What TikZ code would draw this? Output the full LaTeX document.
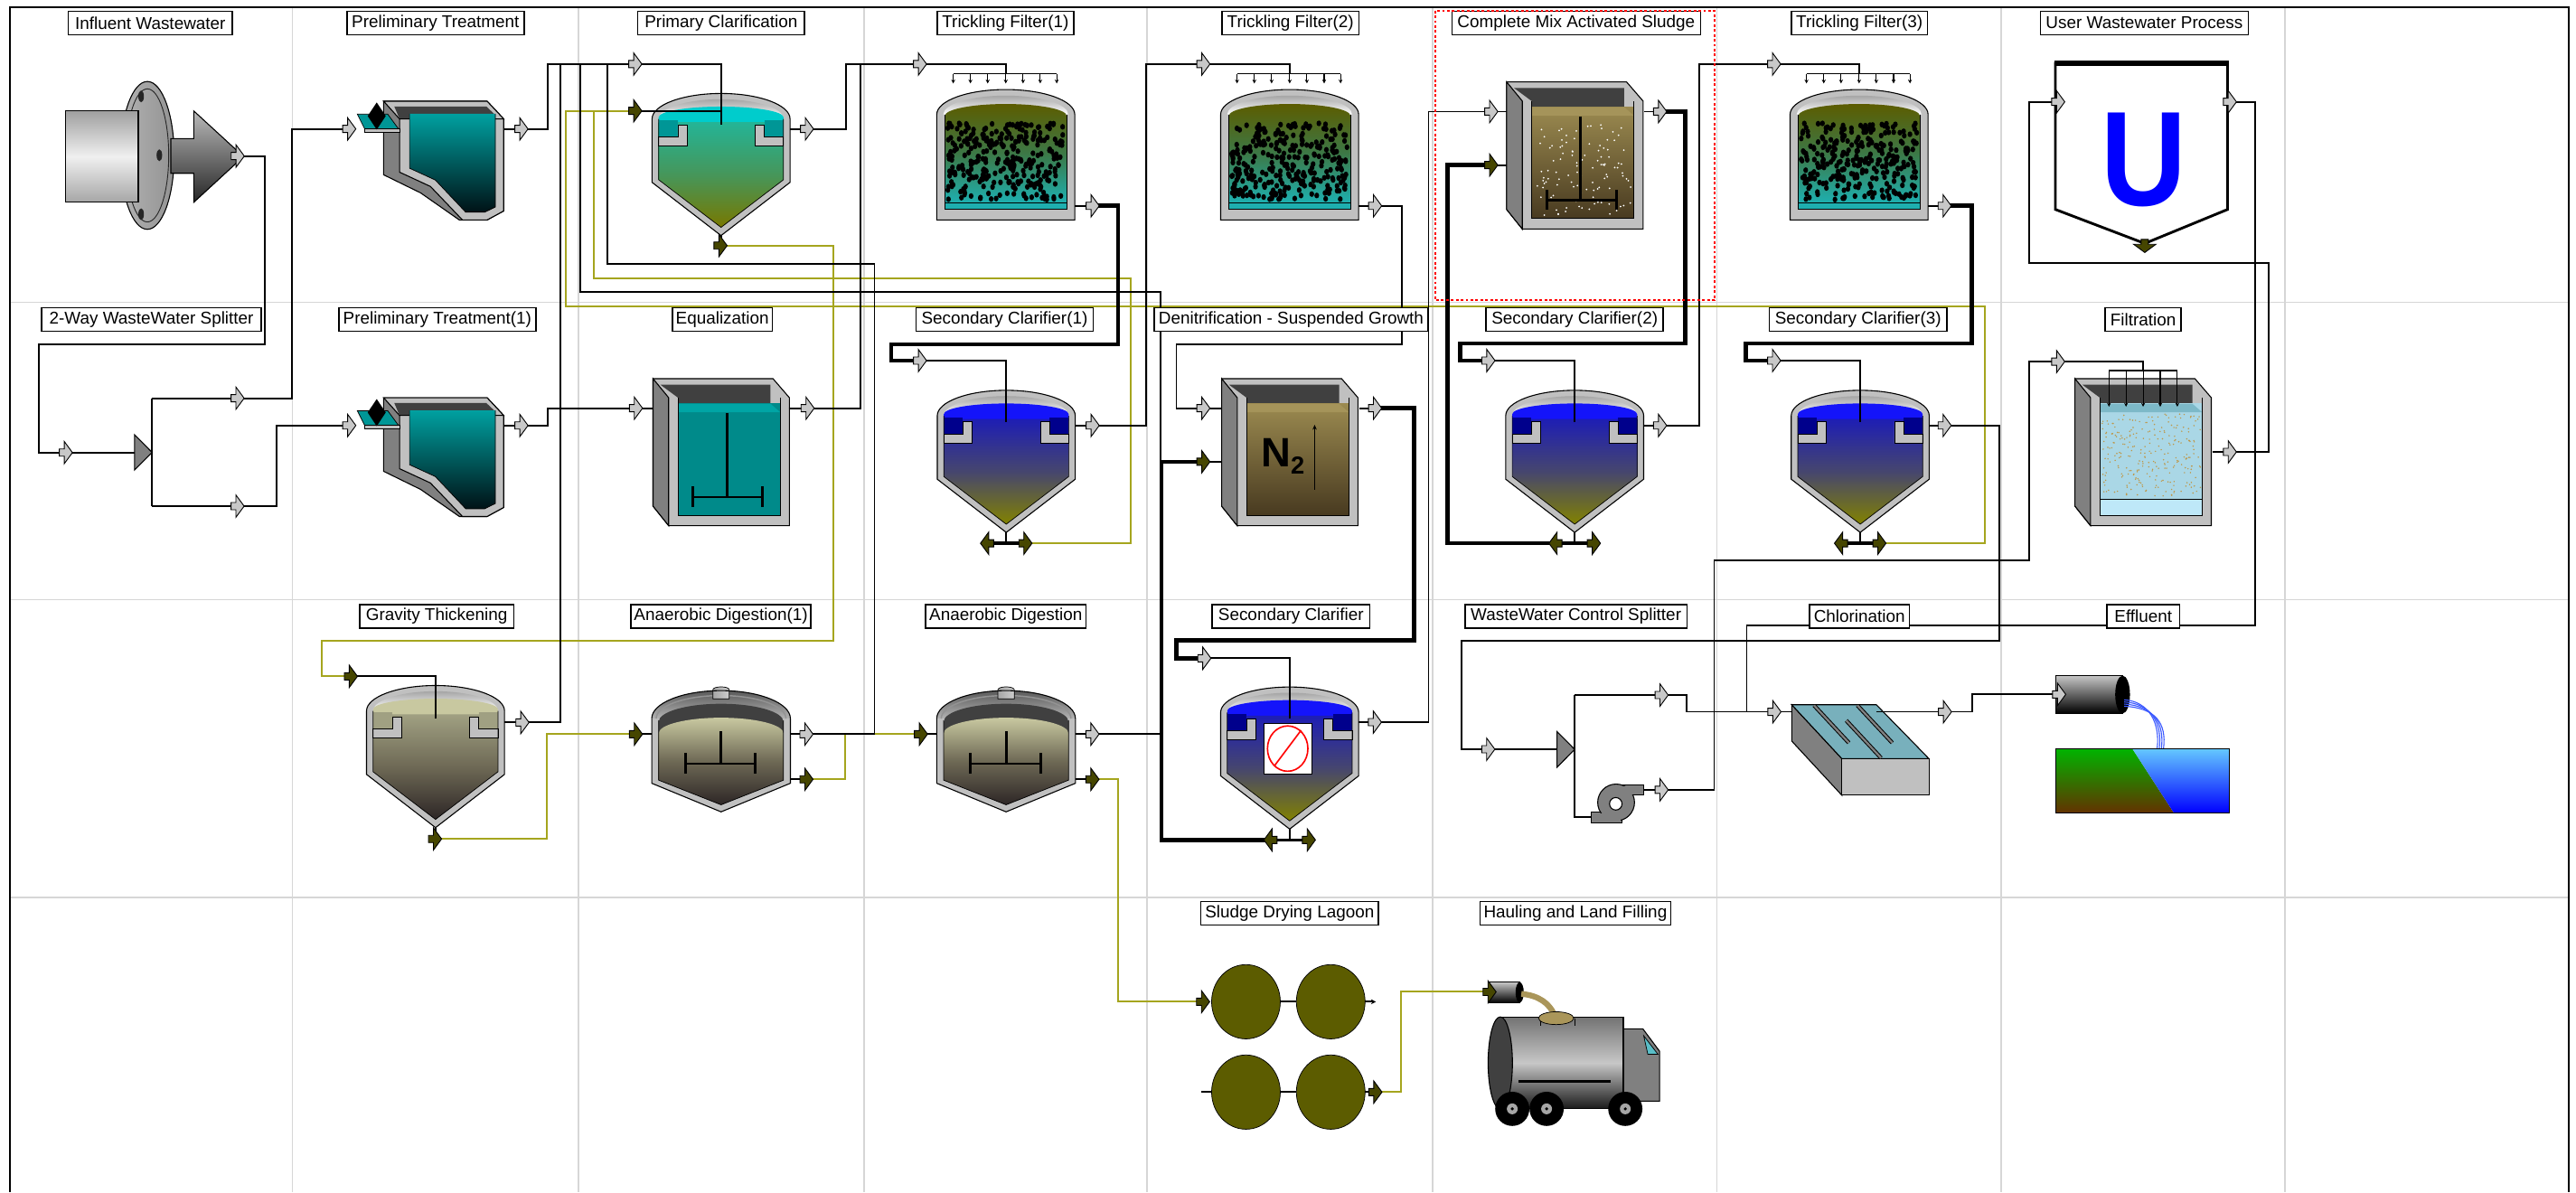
\documentclass[tikz,border=0pt]{standalone}
\usepackage{fontspec}
\setmainfont{Liberation Sans}
\usetikzlibrary{arrows.meta}

\definecolor{olivel}{RGB}{165,165,30}
\definecolor{portd}{RGB}{70,70,0}
\definecolor{portl}{RGB}{200,200,200}
\definecolor{wallg}{RGB}{192,192,192}
\definecolor{sideg}{RGB}{128,128,128}
\definecolor{darkg}{RGB}{64,64,64}
\definecolor{gridg}{RGB}{214,214,214}
\definecolor{tealA}{RGB}{0,160,160}
\definecolor{tealB}{RGB}{0,18,22}
\definecolor{cyanS}{RGB}{0,204,204}
\definecolor{tealT}{RGB}{0,150,150}
\definecolor{primT}{RGB}{36,180,150}
\definecolor{primM}{RGB}{70,150,90}
\definecolor{primB}{RGB}{120,120,0}
\definecolor{blueS}{RGB}{20,20,250}
\definecolor{navyT}{RGB}{0,0,140}
\definecolor{secT}{RGB}{30,30,180}
\definecolor{secM}{RGB}{70,70,110}
\definecolor{secB}{RGB}{130,130,0}
\definecolor{khakiS}{RGB}{200,200,160}
\definecolor{gtT}{RGB}{160,160,130}
\definecolor{gtM}{RGB}{110,105,85}
\definecolor{gtB}{RGB}{45,38,38}
\definecolor{sludA}{RGB}{92,92,0}
\definecolor{tfM}{RGB}{60,120,70}
\definecolor{tfB}{RGB}{30,175,175}
\definecolor{brownT}{RGB}{155,138,80}
\definecolor{brownB}{RGB}{72,58,32}
\definecolor{brownS}{RGB}{165,148,90}
\definecolor{eqT}{RGB}{0,138,138}
\definecolor{eqS}{RGB}{0,165,165}
\definecolor{filtA}{RGB}{170,215,230}
\definecolor{filtB}{RGB}{190,232,248}
\definecolor{filtS}{RGB}{125,185,200}
\definecolor{sandc}{RGB}{190,150,70}
\definecolor{chlT}{RGB}{120,176,188}
\definecolor{cabwin}{RGB}{90,190,200}
\definecolor{hose}{RGB}{170,150,90}
\definecolor{grassA}{RGB}{0,180,0}
\definecolor{grassB}{RGB}{100,50,0}
\definecolor{waterA}{RGB}{100,200,255}
\definecolor{waterB}{RGB}{0,0,255}
\definecolor{streamc}{RGB}{60,90,255}

\tikzset{
  pipe/.style={line width=1pt, draw=black},
  sludge/.style={line width=1.1pt, draw=olivel},
  recyc/.style={line width=2.6pt, draw=black},
  outl/.style={draw=black, line width=0.6pt},
  thinl/.style={draw=black, line width=0.4pt},
  lbl/.style={draw=black, fill=white, line width=0.8pt, inner sep=0pt,
    minimum height=14.5pt, font=\fontsize{10.4}{12}\selectfont},
  tick/.style={line width=0.6pt, -{Stealth[length=2.4pt,width=2.4pt]}},
  pics/portr/.style={code={
    \filldraw[fill=#1, draw=black, line width=0.5pt]
      (-4.3,-2.2) -- (-1.3,-2.2) -- (-1.3,-6.8) -- (3.7,0) -- (-1.3,6.8)
      -- (-1.3,2.2) -- (-4.3,2.2) -- cycle;}},
}

% settling tank: centre x, wall top y, surface, trough, top/middle/bottom fill
\newcommand{\clarifier}[7]{%
  \begin{scope}[shift={(#1,#2)}]
    \fill[wallg] (-42,0) -- (-42,38.6) -- (0,71) -- (42,38.6) -- (42,0)
      arc[start angle=0,end angle=-180,x radius=42,y radius=15.5] -- cycle;
    \shade[top color=gray!70, bottom color=white] (38,0)
      arc[start angle=0,end angle=-180,x radius=38,y radius=12] -- cycle;
    \fill[#3] (-38,3) -- (-38,-1)
      arc[start angle=180,end angle=360,x radius=38,y radius=6.5] -- (38,3) -- cycle;
    \shade[top color=#5, bottom color=#7, middle color=#6]
      (-38,2) -- (-38,37) -- (0,66) -- (38,37) -- (38,2) -- cycle;
    \fill[#4] (-38,1) rectangle (-26.3,11);
    \fill[#4] (26.3,1) rectangle (38,11);
    \filldraw[fill=wallg, thinl] (-38,11) -- (-26.3,11) -- (-26.3,3.7) -- (-20.8,3.7)
      -- (-20.8,16.6) -- (-38,16.6) -- cycle;
    \filldraw[fill=wallg, thinl] (38,11) -- (26.3,11) -- (26.3,3.7) -- (20.8,3.7)
      -- (20.8,16.6) -- (38,16.6) -- cycle;
    \draw[thinl] (-38,0) -- (-38,37) -- (0,66) -- (38,37) -- (38,0);
    \draw[outl] (-42,0) -- (-42,38.6) -- (0,71) -- (42,38.6) -- (42,0)
      arc[start angle=0,end angle=-180,x radius=42,y radius=15.5] -- cycle;
  \end{scope}}

% digester: centre x, wall top y
\newcommand{\digester}[2]{%
  \begin{scope}[shift={(#1,#2)}]
    \fill[wallg] (-42.2,0) -- (-42.2,39.4) -- (0,56.8) -- (42.2,39.4) -- (42.2,0) -- cycle;
    \shade[top color=black!65, bottom color=black!30] (42.2,0)
      arc[start angle=0,end angle=-180,x radius=42.2,y radius=17] -- cycle;
    \draw[gray!85, line width=0.8pt] (39.5,0)
      arc[start angle=0,end angle=-180,x radius=39.5,y radius=14];
    \fill[darkg] (38,9) -- (38,2)
      arc[start angle=0,end angle=-180,x radius=38,y radius=11] -- (-38,9) -- cycle;
    \shadedraw[left color=gray!70, right color=gray!40, thinl] (-5,-12) -- (-5,-17.5)
      arc[start angle=180,end angle=360,x radius=5,y radius=1.8] -- (5,-12) -- cycle;
    \shade[top color=khakiS, bottom color=gtB, middle color=gtM] (-38,9)
      arc[start angle=180,end angle=360,x radius=38,y radius=9.5]
      -- (38,37.5) -- (0,52.5) -- (-38,37.5) -- cycle;
    \draw[thinl] (-38,1) -- (-38,37.5) -- (0,52.5) -- (38,37.5) -- (38,1);
    \draw[line width=1.6pt] (0,7.9) -- (0,27.5) (-21.8,27.5) -- (20.9,27.5)
      (-21.8,21) -- (-21.8,33.5) (20.9,21) -- (20.9,33.5);
    \draw[outl] (-42.2,0) -- (-42.2,39.4) -- (0,56.8) -- (42.2,39.4) -- (42.2,0)
      arc[start angle=0,end angle=-180,x radius=42.2,y radius=17] -- cycle;
  \end{scope}}

% trickling filter: centre x, random seed for the media
\newcommand{\tfilter}[2]{%
  \begin{scope}[shift={(#1,0)}]
    \filldraw[fill=wallg, outl] (-42,133.9) -- (-42,69.7)
      arc[start angle=180,end angle=360,x radius=42,y radius=15.2] -- (42,133.9) -- cycle;
    \shade[top color=gray!70, bottom color=white] (-38,69.7)
      arc[start angle=180,end angle=360,x radius=38,y radius=11.5] -- cycle;
    \shade[top color=sludA, bottom color=tfB, middle color=tfM] (-37,123.2) -- (-37,70.5)
      arc[start angle=180,end angle=360,x radius=37,y radius=7.2] -- (37,123.2) -- cycle;
    \pgfmathsetseed{#2}
    \foreach \k in {1,...,300}{%
      \pgfmathsetmacro{\dotx}{-35.3+70.6*rnd}%
      \pgfmathsetmacro{\doty}{75+46.5*rnd}%
      \fill (\dotx,\doty) ellipse[x radius=1.45,y radius=1.75];}
    \filldraw[fill=tfB, thinl] (-37,123.2) rectangle (37,127.5);
    \draw[thinl] (-37,127.5) -- (-37,69.7) (37,69.7) -- (37,127.5);
    \draw[line width=0.8pt] (-32,44.9) -- (31,44.9);
    \foreach \q in {-32,-21.5,-11,0,10.5,21,31} \draw[tick] (\q,44.9) -- (\q,50.8);
  \end{scope}}

% open basin: left x, top y, liquid top/bottom colour, surface colour
\newcommand{\tankbox}[5]{%
  \begin{scope}[shift={(#1,#2)}]
    \filldraw[fill=wallg, outl] (0,0) -- (73,0) -- (83,11.6) -- (83,89.5) -- (9.5,89.5)
      -- (0,77.6) -- cycle;
    \filldraw[fill=sideg, outl] (0,0) -- (9.5,11.6) -- (9.5,89.5) -- (0,77.6) -- cycle;
    \fill[darkg] (4.5,3.7) -- (71.5,3.7) -- (71.5,15.3) -- (15.2,15.3) -- (15.2,11.6) -- cycle;
    \shade[top color=#3, bottom color=#4] (15.2,15.3) rectangle (77.5,83.1);
    \fill[#5] (15.2,15.3) -- (71.5,15.3) -- (77.5,20.5) -- (15.2,20.5) -- cycle;
    \draw[thinl] (15.2,11.6) -- (15.2,83.1) -- (77.5,83.1) -- (77.5,11.6);
  \end{scope}}

\newcommand{\mixer}[2]{%
  \begin{scope}[shift={(#1,#2)}]
    \draw[line width=1.6pt] (45,20.8) -- (45,72.1) (24.4,72.1) -- (66.7,72.1)
      (24.4,65.7) -- (24.4,78) (66.7,65.7) -- (66.7,78);
  \end{scope}}

% bar screen and channel, shifted down by #1
\newcommand{\prelim}[1]{%
  \begin{scope}[shift={(0,#1)}]
    \filldraw[fill=sideg, outl] (233.5,61.6) -- (296.5,61.6) -- (306.6,72.4) -- (306.6,128.4)
      -- (296.5,133.9) -- (279.6,133.9) -- (256,117.4) -- (233.5,106.4) -- cycle;
    \filldraw[fill=wallg, outl] (233.5,61.6) -- (296.5,61.6) -- (306.6,72.4) -- (243.2,72.4) -- cycle;
    \fill[darkg] (240,64.8) -- (296,64.8) -- (301.5,70) -- (301.5,72.4) -- (243.2,72.4) -- cycle;
    \filldraw[fill=wallg, outl] (243.2,72.4) -- (306.6,72.4) -- (306.6,128.4) -- (296.5,133.9)
      -- (281.5,133.9) -- (262,113.5) -- (243.2,104.8) -- cycle;
    \shade[top color=tealA, bottom color=tealB] (249.3,69.3) -- (301.5,69.3) -- (301.5,126)
      -- (295,129.2) -- (283.5,129.2) -- (265,109.6) -- (249.3,102.4) -- cycle;
    \draw[thinl] (249.3,69.3) -- (249.3,102.4) -- (265,109.6) -- (283.5,129.2) -- (295,129.2)
      -- (301.5,126) -- (301.5,69.3);
    \filldraw[fill=tealT, thinl] (217.5,69.5) -- (236,69.5) -- (242.6,78.5) -- (222,78.5) -- cycle;
    \filldraw[fill=wallg, thinl] (222,78.5) rectangle (243.2,80.7);
    \fill (229.3,62.4) -- (234.8,70.6) -- (229.3,78.9) -- (223.8,70.6) -- cycle;
  \end{scope}}

\begin{document}
\begin{tikzpicture}[x=1pt,y=-1pt]
\useasboundingbox (0,0) rectangle (1568,725.7);
\fill[white] (0,0) rectangle (1568,725.7);

% ---------------- layout grid and frame
\foreach \gx in {178,352,526,698,872,1045,1218,1391}
  \draw[gridg, line width=1pt] (\gx,5) -- (\gx,725.7);
\foreach \gy in {184,365,546.5}
  \draw[gridg, line width=1pt] (6,\gy) -- (1563.5,\gy);
\draw[line width=1.3pt] (6,725.7) -- (6,4.5) -- (1563.5,4.5) -- (1563.5,725.7);

% ---------------- stream ports
\coordinate (infl-out) at (145,95);
\coordinate (spl-in) at (40.4,275.5);
\coordinate (spl-o1) at (144.9,242.4);
\coordinate (spl-o2) at (144.9,308.1);
\coordinate (pt0-in) at (212.9,78.5);
\coordinate (pt0-out) at (317.7,78.5);
\coordinate (pt1-in) at (212.9,259);
\coordinate (pt1-out) at (317.7,259);
\coordinate (pc-in) at (387,39);
\coordinate (pc-in2) at (387,67.5);
\coordinate (pc-out) at (491.5,78.5);
\coordinate (pc-sl) at (438.9,149.5);
\coordinate (eq-in) at (387.4,248.5);
\coordinate (eq-out) at (491.9,248.5);
\coordinate (tf1-in) at (560.3,39);
\coordinate (tf1-out) at (665.4,125.3);
\coordinate (tf2-in) at (732.8,39);
\coordinate (tf2-out) at (837.3,125.3);
\coordinate (tf3-in) at (1080.2,39);
\coordinate (tf3-out) at (1184,125.3);
\coordinate (cm-in) at (908,67.9);
\coordinate (cm-in2) at (908,100.5);
\coordinate (cm-out) at (1010.8,67.9);
\coordinate (us-in) at (1253.1,62);
\coordinate (us-out) at (1357.6,62);
\coordinate (us-sl) at (1305.5,150);
\coordinate (sc1-in) at (560.3,219.5);
\coordinate (sc1-out) at (665.4,259);
\coordinate (sc1-sa) at (600.5,330.7);
\coordinate (sc1-sb) at (624.5,330.7);
\coordinate (dn-in) at (732.8,248.5);
\coordinate (dn-in2) at (732.8,281.1);
\coordinate (dn-out) at (837.3,248.5);
\coordinate (sc2-in) at (906.3,219.5);
\coordinate (sc2-out) at (1010.8,259);
\coordinate (sc2-sa) at (946.5,330.7);
\coordinate (sc2-sb) at (970.5,330.7);
\coordinate (sc3-in) at (1080.2,219.5);
\coordinate (sc3-out) at (1184,259);
\coordinate (sc3-sa) at (1120.3,330.7);
\coordinate (sc3-sb) at (1144.3,330.7);
\coordinate (fi-in) at (1253.1,220.1);
\coordinate (fi-out) at (1357.6,275.1);
\coordinate (gt-in) at (213.9,411.7);
\coordinate (gt-out) at (318.3,439.8);
\coordinate (gt-sl) at (265.1,510.7);
\coordinate (ad1-in) at (387.4,446.9);
\coordinate (ad1-out) at (491.2,446.9);
\coordinate (ad1-sl) at (491.2,474.4);
\coordinate (ad-in) at (560.9,446.9);
\coordinate (ad-out) at (665.3,446.9);
\coordinate (ad-sl) at (665.3,474.4);
\coordinate (sc-in) at (733.4,400.7);
\coordinate (sc-out) at (837.2,439.6);
\coordinate (sc-sa) at (773,511.3);
\coordinate (sc-sb) at (797,511.3);
\coordinate (ws-in) at (906.2,456.1);
\coordinate (ws-o1) at (1011.7,423.1);
\coordinate (ws-o2) at (1011.7,480.8);
\coordinate (ch-in) at (1080.4,433.3);
\coordinate (ch-out) at (1184.2,433.3);
\coordinate (ef-in) at (1253.7,422.7);
\coordinate (lg-in) at (732.6,609.8);
\coordinate (lg-out) at (837.5,664.8);
\coordinate (tk-in) at (907,603.8);

% ---------------- influent pipe
\shadedraw[left color=gray!60, right color=gray!85, outl] (89.7,94.6) ellipse[x radius=16.3,y radius=45];
\draw[gray!30!black, line width=0.5pt] (89.7,94.6) ellipse[x radius=13,y radius=40.5];
\foreach \by/\bx in {58.7/85.9, 94.5/97, 130.4/85.9}
  \fill[black!85] (\bx,\by) ellipse[x radius=1.7,y radius=3.6];
\shadedraw[top color=gray!75, bottom color=gray!70, middle color=gray!12, outl]
  (39.8,67.5) rectangle (84.2,123.2);
\shadedraw[top color=gray!55, bottom color=black!85, outl] (104,84.4) -- (117.9,84.4)
  -- (117.9,67.5) -- (148.2,95.3) -- (117.9,123.2) -- (117.9,105.5) -- (104,105.5) -- cycle;

% ---------------- splitters
\filldraw[fill=sideg, outl] (81.9,264.6) -- (92.6,275.4) -- (81.9,286.1) -- cycle;
\filldraw[fill=sideg, outl] (947.7,445.3) -- (958.5,456.2) -- (947.7,467.1) -- cycle;

% ---------------- headworks
\prelim{0}
\prelim{180.5}

% ---------------- settling tanks
\clarifier{438.9}{72.4}{cyanS}{tealT}{primT}{primM}{primB}
\clarifier{612.5}{253.1}{blueS}{navyT}{secT}{secM}{secB}
\clarifier{958.5}{253.1}{blueS}{navyT}{secT}{secM}{secB}
\clarifier{1132.3}{253.1}{blueS}{navyT}{secT}{secM}{secB}
\clarifier{785}{433.7}{blueS}{navyT}{secT}{secM}{secB}
\clarifier{265.1}{432.8}{khakiS}{gtT}{gtT}{gtM}{gtB}
% disabled marker on the last clarifier
\filldraw[fill=white, thinl] (769.1,440.1) rectangle (798.4,471.3);
\draw[red, line width=0.9pt] (783.8,455.7) ellipse[x radius=12.3,y radius=13.8];
\draw[red, line width=0.9pt] (775.5,466.5) -- (792,444.5);

% ---------------- trickling filters
\tfilter{612.2}{11}
\tfilter{785}{23}
\tfilter{1131.6}{37}

% ---------------- basins
\tankbox{397.5}{230.5}{eqT}{eqT}{eqS}
\mixer{397.5}{230.5}
\tankbox{917.1}{49.9}{brownT}{brownB}{brownS}
\pgfmathsetseed{5}
\foreach \k in {1,...,110}{%
  \pgfmathsetmacro{\dotx}{935+58*rnd}\pgfmathsetmacro{\doty}{76+55*rnd}%
  \fill[white] (\dotx,\doty) circle (0.55);}
\mixer{917.1}{49.9}
\tankbox{743.6}{230.5}{brownT}{brownB}{brownS}
\node[font=\fontsize{25}{25}\selectfont\bfseries, anchor=base west, inner sep=0pt]
  (n2) at (767.5,284.3) {N\raisebox{-4.5pt}{\fontsize{15}{15}\selectfont 2}};
\draw[line width=0.8pt, -{Stealth[length=3pt,width=2.6pt]}] (800.2,298) -- (800.2,258.6);
\tankbox{1263}{230.5}{filtA}{filtA}{filtS}
\pgfmathsetseed{9}
\foreach \k in {1,...,260}{%
  \pgfmathsetmacro{\dotx}{1279.5+60*rnd}\pgfmathsetmacro{\doty}{252+50*rnd}%
  \fill[sandc] (\dotx,\doty) circle (0.45);}
\filldraw[fill=filtB, thinl] (1278.2,303.9) rectangle (1340.5,313.6);
\draw[line width=0.8pt] (1283.7,225.6) -- (1325.3,225.6);
\foreach \q in {1283.7,1294.1,1304.5,1314.9,1325.3} \draw[tick] (\q,225.6) -- (\q,247.6);

% ---------------- digesters
\digester{438.9}{437.4}
\digester{612.4}{437.4}

% ---------------- user process
\filldraw[fill=white, line width=1.6pt] (1251.1,38.5) -- (1355.9,38.5) -- (1355.9,127.5)
  -- (1305.5,148.2) -- (1251.1,127.5) -- cycle;
\draw[line width=3pt] (1250.3,38.5) -- (1356.7,38.5);
\node[text=blue, font=\fontsize{82}{82}\selectfont\bfseries, xscale=0.88, anchor=base,
  inner sep=0pt] (u-sym) at (1304.9,125.3) {U};

% ---------------- splitter pump
\filldraw[fill=sideg, outl] (968.6,494.2) rectangle (987.1,500.7);
\filldraw[fill=sideg, outl] (984,477.7) rectangle (1000.6,484.1);
\filldraw[fill=sideg, outl] (983.7,488.5) circle (11.2);
\fill[sideg] (984.5,478.4) rectangle (999.9,483.4);
\fill[sideg] (969.3,494.9) rectangle (986.4,500);
\filldraw[fill=white, outl] (983.5,489.3) circle (3.8);

% ---------------- chlorination basin
\filldraw[fill=sideg, outl] (1090.6,429) -- (1121.1,461.8) -- (1121.1,484.1) -- (1090.6,451.1) -- cycle;
\filldraw[fill=wallg, outl] (1121.1,461.8) rectangle (1174.1,484.1);
\filldraw[fill=chlT, outl] (1090.6,429) -- (1142.1,429) -- (1174.1,461.8) -- (1121.1,461.8) -- cycle;
\foreach \wa/\wb in {1104.2/429.4, 1130.6/429.4} {
  \draw[line width=2.4pt] (\wa,\wb) -- ++(21.2,22.8);
  \draw[line width=1.3pt, sideg] (\wa,\wb) -- ++(21.2,22.8);}
\draw[line width=2.4pt] (1145,461.4) -- ++(-21.2,-22.8);
\draw[line width=1.3pt, sideg] (1145,461.4) -- ++(-21.2,-22.8);

% ---------------- effluent outfall
\shadedraw[top color=gray!45, bottom color=black, outl] (1251.6,411.3) rectangle (1292,434.3);
\fill (1292,422.8) ellipse[x radius=4.5,y radius=11.5];
\foreach \s in {0,1.3,2.6,3.9}
  \draw[streamc, line width=0.6pt] (1293,426+\s) .. controls (1308+\s,427+\s) and (1315+\s,440) .. (1313+\s,455.7);
\shade[top color=grassA, bottom color=grassB] (1251.6,455.7) -- (1297.9,455.7) -- (1323.2,494.8) -- (1251.6,494.8) -- cycle;
\shade[top color=waterA, bottom color=waterB] (1297.9,455.7) -- (1356.8,455.7) -- (1356.8,494.8) -- (1323.2,494.8) -- cycle;
\draw[outl] (1251.6,455.7) rectangle (1356.8,494.8);

% ---------------- drying lagoons
\foreach \lx/\ly in {758.4/609.8, 810/609.8, 758.4/664.8, 810/664.8}
  \filldraw[fill=sludA, thinl] (\lx,\ly) ellipse[x radius=20.9,y radius=22.6];
\draw[pipe] (779.3,609.8) -- (789.1,609.8);
\draw[pipe, -{Stealth[length=3pt,width=3pt]}] (830.9,609.8) -- (837.5,609.8);
\draw[pipe] (731.4,664.8) -- (737.5,664.8) (779.3,664.8) -- (789.1,664.8) (830.9,664.8) -- (lg-out);

% ---------------- haul truck
\shadedraw[top color=gray!45, bottom color=black, outl] (905.8,597.9) rectangle (925,610.4);
\fill (925,604.1) ellipse[x radius=2.5,y radius=6.2];
\draw[hose, line width=3.5pt] (926,605) .. controls (937,606) and (943,611) .. (946,617.5);
\filldraw[fill=sideg, outl] (988.1,626.3) -- (1000,626.3) -- (1010.2,640) -- (1010.2,670.3) -- (988.1,670.3) -- cycle;
\filldraw[fill=cabwin, thinl] (1000.5,630.5) -- (1009.2,641.8) -- (1003,641.8) -- cycle;
\shadedraw[top color=black!55, bottom color=black!90, middle color=black!22, outl]
  (913.2,619) rectangle (988.1,675);
\filldraw[fill=darkg, outl] (913.2,647) ellipse[x radius=7.4,y radius=28];
\draw[thinl] (937.7,619.8) -- (937.7,624.5) (958.6,619.8) -- (958.6,624.5);
\filldraw[fill=hose, thinl] (947.2,619.8) ellipse[x radius=10.7,y radius=3.9];
\draw[line width=1.5pt] (924.3,658.4) -- (980.5,658.4);
\foreach \wx in {920.5,941.4,989.3} {
  \fill (\wx,675) circle (10.4);
  \fill[gray!70] (\wx,675) circle (3.3);
  \fill (\wx,675) circle (1);}

% ---------------- sludge lines
\draw[sludge] (sc1-sb) -| (688.3,169.6) -| (361.7,67.5) -- (pc-in2);
\draw[sludge] (sc3-sb) -| (1207.9,186.6) -| (344.4,67.5) -- (pc-in2);
\draw[sludge] (pc-sl) -| (507.1,390.2) -| (196,411.7) -- (gt-in);
\draw[sludge] (gt-sl) -| (332.8,446.9) -- (ad1-in);
\draw[sludge] (ad1-sl) -| (514.4,446.9) -- (ad-in);
\draw[sludge] (ad-sl) -| (680.5,609.8) -- (lg-in);
\draw[sludge] (lg-out) -| (853,603.8) -- (tk-in);

% ---------------- liquid lines
\draw[pipe] (infl-out) -| (161,209.6) -| (23.6,275.5) -- (spl-in) -- (81.9,275.5);
\draw[pipe] (92.6,242.4) -- (92.6,308.1);
\draw[pipe] (92.6,242.4) -- (spl-o1) -| (177.5,78.5) -- (pt0-in);
\draw[pipe] (92.6,308.1) -- (spl-o2) -| (168.5,259) -- (pt1-in);
\draw[pipe] (306.6,78.5) -- (pt0-out) -| (333.2,39) -- (pc-in) -| (438.9,76);
\draw[pipe] (pc-in2) -- (438.9,67.5);
\draw[pipe] (306.6,259) -- (pt1-out) -| (333.5,248.5) -- (eq-in) -- (397.5,248.5);
\draw[pipe] (480.9,78.5) -- (pc-out) -| (514.8,39) -- (tf1-in) -| (612.2,44.9);
\draw[pipe] (480.1,248.5) -- (eq-out) -| (523.6,39);
\draw[pipe] (438.9,143.4) -- (pc-sl);
\draw[pipe] (307.1,439.8) -- (gt-out) -| (341.1,39);
\draw[pipe] (gt-in) -| (265.1,437.4);
\draw[pipe] (265.1,503.8) -- (gt-sl);
\draw[pipe] (ad1-in) -- (396.8,446.9);
\draw[pipe] (ad-in) -- (570.2,446.9);
\draw[pipe] (481.1,474.4) -- (ad1-sl);
\draw[pipe] (654.6,474.4) -- (ad-sl);
\draw[pipe] (481.1,446.9) -- (ad1-out) -| (532.3,160.5) -| (369.9,39);
\draw[pipe] (654.6,446.9) -- (ad-out) -| (706.5,177.9) -| (353,39);
\draw[pipe] (654.2,125.3) -- (tf1-out);
\draw[recyc] (tf1-out) -| (680.6,209.6) -| (542.5,219.5) -- (sc1-in);
\draw[pipe] (sc1-in) -| (612.5,256.8);
\draw[pipe] (654.5,259) -- (sc1-out) -| (697.4,39) -- (tf2-in) -| (785,44.9);
\draw[pipe] (827,125.3) -- (tf2-out) -| (853.1,209.6) -| (716,248.5) -- (dn-in) -- (743.6,248.5);
\draw[pipe] (dn-in2) -- (743.6,281.1);
\draw[pipe] (827.2,248.5) -- (dn-out);
\draw[recyc] (dn-out) -| (860.8,389.7) -| (715.9,400.7) -- (sc-in);
\draw[pipe] (sc-in) -| (785,437.4);
\draw[pipe] (785,504.7) -- (785,511.3);
\draw[line width=2pt] (sc-sa) -- (sc-sb);
\draw[recyc] (sc-sa) -| (707,281.1) -- (dn-in2);
\draw[pipe] (827,439.6) -- (sc-out) -| (869.5,67.9) -- (cm-in) -- (917.1,67.9);
\draw[pipe] (cm-in2) -- (917.1,100.5);
\foreach \cx in {612.5,958.5,1132.3} {
  \draw[pipe] (\cx,324.1) -- (\cx,330.7);
  \draw[line width=2pt] (\cx-12,330.7) -- (\cx+12,330.7);}
\draw[recyc] (sc2-sa) -| (881,100.5) -- (cm-in2);
\draw[pipe] (1000.7,67.9) -- (cm-out);
\draw[recyc] (cm-out) -| (1025.9,209.1) -| (888.8,219.5) -- (sc2-in);
\draw[pipe] (sc2-in) -| (958.5,256.8);
\draw[pipe] (1000.5,259) -- (sc2-out) -| (1034.4,39) -- (tf3-in) -| (1131.6,44.9);
\draw[pipe] (1173.6,125.3) -- (tf3-out);
\draw[recyc] (tf3-out) -| (1200,209.1) -| (1062.5,219.5) -- (sc3-in);
\draw[pipe] (sc3-in) -| (1132.3,256.8);
\draw[pipe] (1174.3,259) -- (sc3-out) -| (1217,390.2) -| (889.4,456.1) -- (ws-in) -- (947.7,456.1);
\draw[pipe] (958.5,423.1) -- (958.5,497.3) -- (968.6,497.3);
\draw[pipe] (958.5,423.1) -- (ws-o1) -| (1026.5,433.3) -- (ch-in) -- (1090.6,433.3);
\draw[pipe] (1000.6,480.8) -- (ws-o2) -| (1043.4,341.1) -| (1235.1,220.1) -- (fi-in) -| (1304.5,225.6);
\draw[pipe] (1346.7,275.1) -- (fi-out) -| (1380.7,160.1) -| (1235.1,62) -- (us-in);
\draw[pipe] (us-out) -| (1372.6,380.9) -| (1063.2,433.3);
\draw[pipe] (1142,433.3) -- (ch-out) -| (1200.4,422.7) -- (ef-in);

% ---------------- port markers
\foreach \p in {infl-out, spl-in, spl-o1, spl-o2, pt0-in, pt0-out, pt1-in, pt1-out,
  pc-in, pc-out, eq-in, eq-out, tf1-in, tf1-out, tf2-in, tf2-out, tf3-in, tf3-out,
  cm-in, cm-out, us-in, us-out, sc1-in, sc1-out, dn-in, dn-out, sc2-in, sc2-out,
  sc3-in, sc3-out, fi-in, fi-out, gt-out, ad1-out, ad-out, sc-in, sc-out, ws-in,
  ws-o1, ws-o2, ch-in, ch-out, ef-in}
  \pic at (\p) {portr=portl};
\foreach \p in {pc-in2, pc-sl, cm-in2, dn-in2, sc1-sb, sc2-sb, sc3-sb, sc-sb, gt-in,
  gt-sl, ad1-in, ad1-sl, ad-in, ad-sl, lg-in, lg-out, tk-in}
  \pic at (\p) {portr=portd};
\foreach \p in {sc1-sa, sc2-sa, sc3-sa, sc-sa}
  \pic[rotate=180] at (\p) {portr=portd};
\pic[rotate=-90] at (us-sl) {portr=portd};

% ---------------- unit labels
\node[lbl, minimum width=100pt] (l-infl) at (91.5,14) {Influent Wastewater};
\node[lbl, minimum width=107.8pt] (l-pt0) at (265.1,14) {Preliminary Treatment};
\node[lbl, minimum width=101.5pt] (l-pc) at (439,14) {Primary Clarification};
\node[lbl, minimum width=83.2pt] (l-tf1) at (612,14) {Trickling Filter(1)};
\node[lbl, minimum width=83.2pt] (l-tf2) at (785.5,14) {Trickling Filter(2)};
\node[lbl, minimum width=151.2pt] (l-cm) at (959.4,14) {Complete Mix Activated Sludge};
\node[lbl, minimum width=82.7pt] (l-tf3) at (1131.8,14) {Trickling Filter(3)};
\node[lbl, minimum width=126.6pt] (l-us) at (1305.2,14) {User Wastewater Process};
\node[lbl, minimum width=133.7pt] (l-spl) at (92.2,194.5) {2-Way WasteWater Splitter};
\node[lbl, minimum width=119.9pt] (l-pt1) at (266.2,194.5) {Preliminary Treatment(1)};
\node[lbl, minimum width=60.7pt] (l-eq) at (439.7,194.5) {Equalization};
\node[lbl, minimum width=107.8pt] (l-sc1) at (611.5,194.5) {Secondary Clarifier(1)};
\node[lbl, minimum width=166.8pt] (l-dn) at (785.9,194.5) {Denitrification - Suspended Growth};
\node[lbl, minimum width=107.8pt] (l-sc2) at (958.5,194.5) {Secondary Clarifier(2)};
\node[lbl, minimum width=108.3pt] (l-sc3) at (1131,194.5) {Secondary Clarifier(3)};
\node[lbl, minimum width=46.2pt] (l-fi) at (1304.5,194.5) {Filtration};
\node[lbl, minimum width=93.7pt] (l-gt) at (265.8,375.2) {Gravity Thickening};
\node[lbl, minimum width=109.5pt] (l-ad1) at (438.8,375.2) {Anaerobic Digestion(1)};
\node[lbl, minimum width=97.7pt] (l-ad) at (612.2,375.2) {Anaerobic Digestion};
\node[lbl, minimum width=96pt] (l-sc) at (785.8,375.2) {Secondary Clarifier};
\node[lbl, minimum width=135pt] (l-ws) at (959.3,375.2) {WasteWater Control Splitter};
\node[lbl, minimum width=60.6pt] (l-ch) at (1131.8,375.2) {Chlorination};
\node[lbl, minimum width=44.2pt] (l-ef) at (1304.6,375.2) {Effluent};
\node[lbl, minimum width=108.1pt] (l-lg) at (785,555.9) {Sludge Drying Lagoon};
\node[lbl, minimum width=115.9pt] (l-tk) at (958.9,555.9) {Hauling and Land Filling};

% ---------------- selection frame
\draw[red, line width=1.1pt, dash pattern=on 1.6pt off 1.4pt] (873.6,6.4) rectangle (1043.5,182.9);
\end{tikzpicture}
\end{document}
